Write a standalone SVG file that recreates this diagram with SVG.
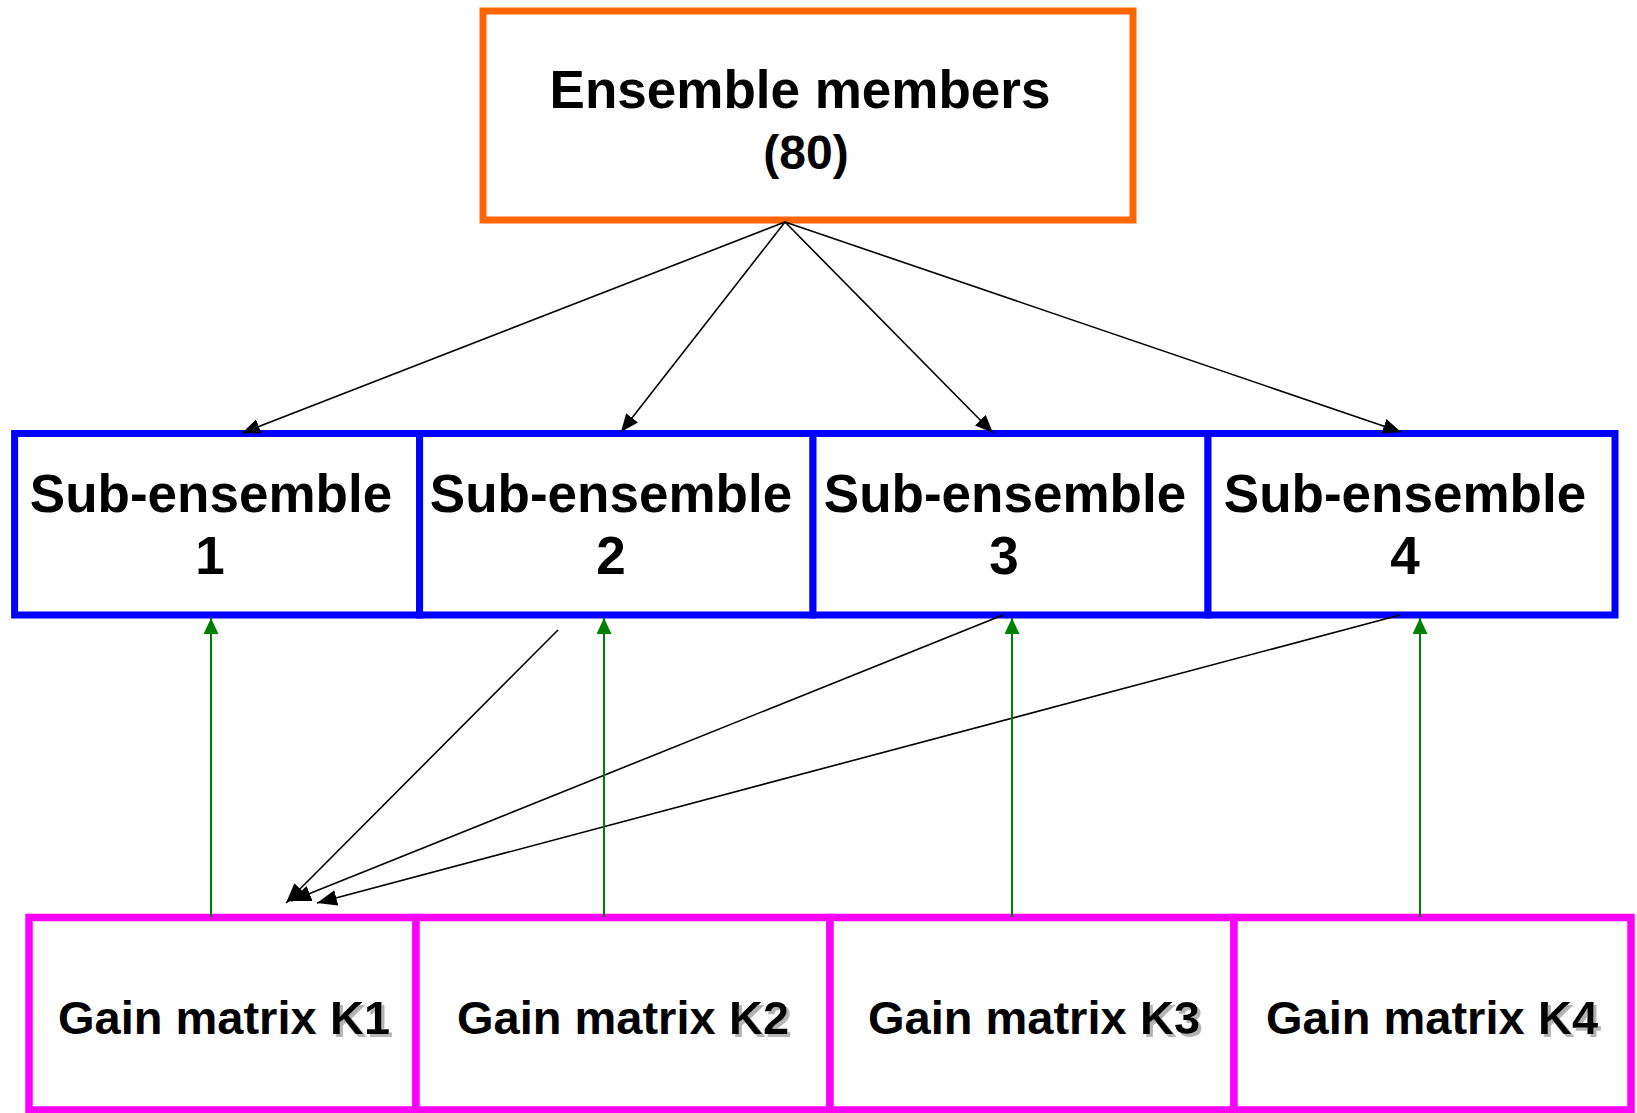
<svg xmlns="http://www.w3.org/2000/svg" width="1637" height="1113" viewBox="0 0 1637 1113">
  <style>
    .lbl { font-family: "Liberation Sans", Arial, sans-serif; font-weight: bold; fill: #000; }
    .top { fill: #fff; stroke: #FF6600; stroke-width: 7; }
    .sub { fill: #fff; stroke: #0000FF; stroke-width: 7; }
    .gain { fill: #fff; stroke: #FF00FF; stroke-width: 7.5; }
    .split { stroke: #000; stroke-width: 1.6; fill: none; }
    .feed { stroke: #008000; stroke-width: 2; fill: none; }
  </style>
  <defs>
    <marker id="ahSmall" viewBox="0 0 18 15" refX="18" refY="7.5" markerWidth="18" markerHeight="15" orient="auto" markerUnits="userSpaceOnUse">
      <path d="M0,0 L18,7.5 L0,15 z" fill="#000"/>
    </marker>
    <marker id="ahBig" viewBox="0 0 20 16" refX="20" refY="8" markerWidth="20" markerHeight="16" orient="auto" markerUnits="userSpaceOnUse">
      <path d="M0,0 L20,8 L0,16 z" fill="#000"/>
    </marker>
    <marker id="ahGreen" viewBox="0 0 16 15" refX="16" refY="7.5" markerWidth="16" markerHeight="15" orient="auto" markerUnits="userSpaceOnUse">
      <path d="M0,0 L16,7.5 L0,15 z" fill="#008000"/>
    </marker>
    <filter id="kShadow" x="-20%" y="-20%" width="150%" height="150%">
      <feDropShadow dx="3" dy="3" stdDeviation="0.6" flood-color="#b4b4b4" flood-opacity="1"/>
    </filter>
  </defs>

  <rect width="1637" height="1113" fill="#fff"/>

  <!-- ensemble -->
  <g id="ensemble">
    <rect class="top" x="483" y="11" width="650" height="209"/>
    <text class="lbl" x="800" y="108" font-size="53" text-anchor="middle">Ensemble members</text>
    <text class="lbl" x="806" y="169" font-size="48" text-anchor="middle">(80)</text>
  </g>

  <!-- sub-ensembles -->
  <g id="sub1">
    <rect class="sub" x="14.6" y="433.5" width="405" height="181.5"/>
    <text class="lbl" x="211" y="512" font-size="53" text-anchor="middle">Sub-ensemble</text>
    <text class="lbl" x="210" y="574" font-size="53" text-anchor="middle">1</text>
  </g>
  <g id="sub2">
    <rect class="sub" x="419.6" y="433.5" width="393.4" height="181.5"/>
    <text class="lbl" x="611" y="512" font-size="53" text-anchor="middle">Sub-ensemble</text>
    <text class="lbl" x="611" y="574" font-size="53" text-anchor="middle">2</text>
  </g>
  <g id="sub3">
    <rect class="sub" x="813" y="433.5" width="395" height="181.5"/>
    <text class="lbl" x="1005" y="512" font-size="53" text-anchor="middle">Sub-ensemble</text>
    <text class="lbl" x="1004" y="574" font-size="53" text-anchor="middle">3</text>
  </g>
  <g id="sub4">
    <rect class="sub" x="1208" y="433.5" width="407" height="181.5"/>
    <text class="lbl" x="1405" y="512" font-size="53" text-anchor="middle">Sub-ensemble</text>
    <text class="lbl" x="1405" y="574" font-size="53" text-anchor="middle">4</text>
  </g>

  <!-- gain matrices -->
  <g id="gain1">
    <rect class="gain" x="29" y="917.5" width="387" height="192.5"/>
    <text class="lbl" x="58" y="1034" font-size="47">Gain matrix </text>
    <text class="lbl" x="330" y="1034" font-size="47" filter="url(#kShadow)">K1</text>
  </g>
  <g id="gain2">
    <rect class="gain" x="416" y="917.5" width="414" height="192.5"/>
    <text class="lbl" x="457" y="1034" font-size="47">Gain matrix </text>
    <text class="lbl" x="729" y="1034" font-size="47" filter="url(#kShadow)">K2</text>
  </g>
  <g id="gain3">
    <rect class="gain" x="830" y="917.5" width="404" height="192.5"/>
    <text class="lbl" x="868" y="1034" font-size="47">Gain matrix </text>
    <text class="lbl" x="1140" y="1034" font-size="47" filter="url(#kShadow)">K3</text>
  </g>
  <g id="gain4">
    <rect class="gain" x="1234" y="917.5" width="397" height="192.5"/>
    <text class="lbl" x="1266" y="1034" font-size="47">Gain matrix </text>
    <text class="lbl" x="1538" y="1034" font-size="47" filter="url(#kShadow)">K4</text>
  </g>

  <!-- connectors -->
  <g id="connectors">
    <!-- split of the ensemble -->
    <line class="split" x1="785" y1="222" x2="242" y2="433" marker-end="url(#ahSmall)"/>
    <line class="split" x1="785" y1="222" x2="621" y2="432" marker-end="url(#ahSmall)"/>
    <line class="split" x1="785" y1="222" x2="993" y2="433" marker-end="url(#ahSmall)"/>
    <line class="split" x1="785" y1="222" x2="1401" y2="432" marker-end="url(#ahSmall)"/>
    <!-- other sub-ensembles feeding K1 -->
    <line class="split" x1="558" y1="630" x2="286" y2="903" marker-end="url(#ahBig)"/>
    <line class="split" x1="1003" y1="615" x2="291" y2="901" marker-end="url(#ahBig)"/>
    <line class="split" x1="1400" y1="615" x2="317" y2="903" marker-end="url(#ahBig)"/>
    <!-- gains applied to each sub-ensemble -->
    <line class="feed" x1="211" y1="917" x2="211" y2="618" marker-end="url(#ahGreen)"/>
    <line class="feed" x1="604" y1="917" x2="604" y2="618" marker-end="url(#ahGreen)"/>
    <line class="feed" x1="1012" y1="917" x2="1012" y2="618" marker-end="url(#ahGreen)"/>
    <line class="feed" x1="1420" y1="917" x2="1420" y2="618" marker-end="url(#ahGreen)"/>
  </g>
</svg>
